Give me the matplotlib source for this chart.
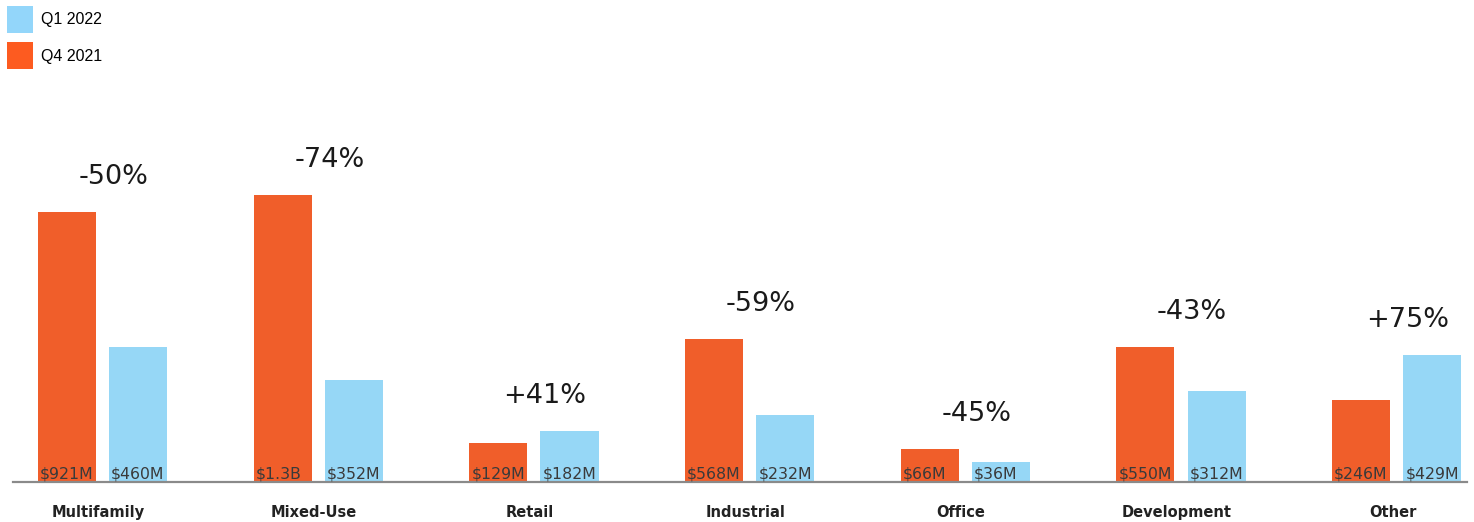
import matplotlib
matplotlib.use("Agg")
import matplotlib.pyplot as plt
import numpy as np
from matplotlib.patches import Patch

# data
categories = ["Multifamily", "Mixed-Use", "Retail", "Industrial", "Office", "Development", "Other"]
q4_labels = ["$921M", "$1.3B", "$129M", "$568M", "$66M", "$550M", "$246M"]
q1_labels = ["$460M", "$352M", "$182M", "$232M", "$36M", "$312M", "$429M"]
change_labels = ["-50%", "-74%", "+41%", "-59%", "-45%", "-43%", "+75%"]
# drawn bar heights (relative units, as measured; not proportional to the labels)
q4_height = [270, 287, 39, 143, 33, 135, 82]
q1_height = [135, 102, 51, 67, 20, 91, 127]

ORANGE = "#F05E2A"
BLUE = "#96D7F6"

W, H = 1474, 522
fig = plt.figure(figsize=(W / 100, H / 100), dpi=100)
ax = fig.add_axes([13 / W, 40 / H, 1454 / W, 382 / H])

x = np.arange(len(categories))
bw = 0.269
off = 0.165
ax.bar(x - off, q4_height, bw, color=ORANGE, zorder=2)
ax.bar(x + off, q1_height, bw, color=BLUE, zorder=2)

ax.set_xlim(-0.415, 6.326)
ax.set_ylim(0, 382)

for sp in ["top", "right", "left"]:
    ax.spines[sp].set_visible(False)
ax.spines["bottom"].set_color("#8a8a8a")
ax.spines["bottom"].set_linewidth(1.6)
ax.spines["bottom"].set_zorder(3)
ax.set_yticks([])
ax.set_xticks([])

for i in range(len(categories)):
    # value labels inside bars
    ax.annotate(q4_labels[i], (x[i] - off - bw / 2, 0), xytext=(1.5, 2.2),
                textcoords="offset points", ha="left", va="baseline",
                fontsize=11.3, color="#3a3a3a", zorder=4)
    ax.annotate(q1_labels[i], (x[i] + off - bw / 2, 0), xytext=(1.5, 2.2),
                textcoords="offset points", ha="left", va="baseline",
                fontsize=11.3, color="#3a3a3a", zorder=4)
    # percentage change
    top = max(q4_height[i], q1_height[i])
    ax.annotate(change_labels[i], (x[i], top), xytext=(8, 20),
                textcoords="offset points", ha="center", va="baseline",
                fontsize=19.5, color="#1a1a1a")
    # category labels
    ax.annotate(categories[i], (x[i], 0), xytext=(-3, -25),
                textcoords="offset points", ha="center", va="baseline",
                fontsize=10.5, fontweight="bold", color="#222222",
                annotation_clip=False)

handles = [Patch(facecolor="#93D6FA", edgecolor="none"),
           Patch(facecolor="#FD5B20", edgecolor="none")]
fig.legend(handles, ["Q1 2022", "Q4 2021"], loc="upper left",
           bbox_to_anchor=(7 / W, 1 - 6 / H), frameon=False,
           prop={"family": ["Liberation Sans", "DejaVu Sans"], "size": 11.5},
           handlelength=1.63, handleheight=2.2, labelspacing=0.6,
           handletextpad=0.5, borderpad=0, borderaxespad=0)

fig.savefig("out.png", dpi=100)
